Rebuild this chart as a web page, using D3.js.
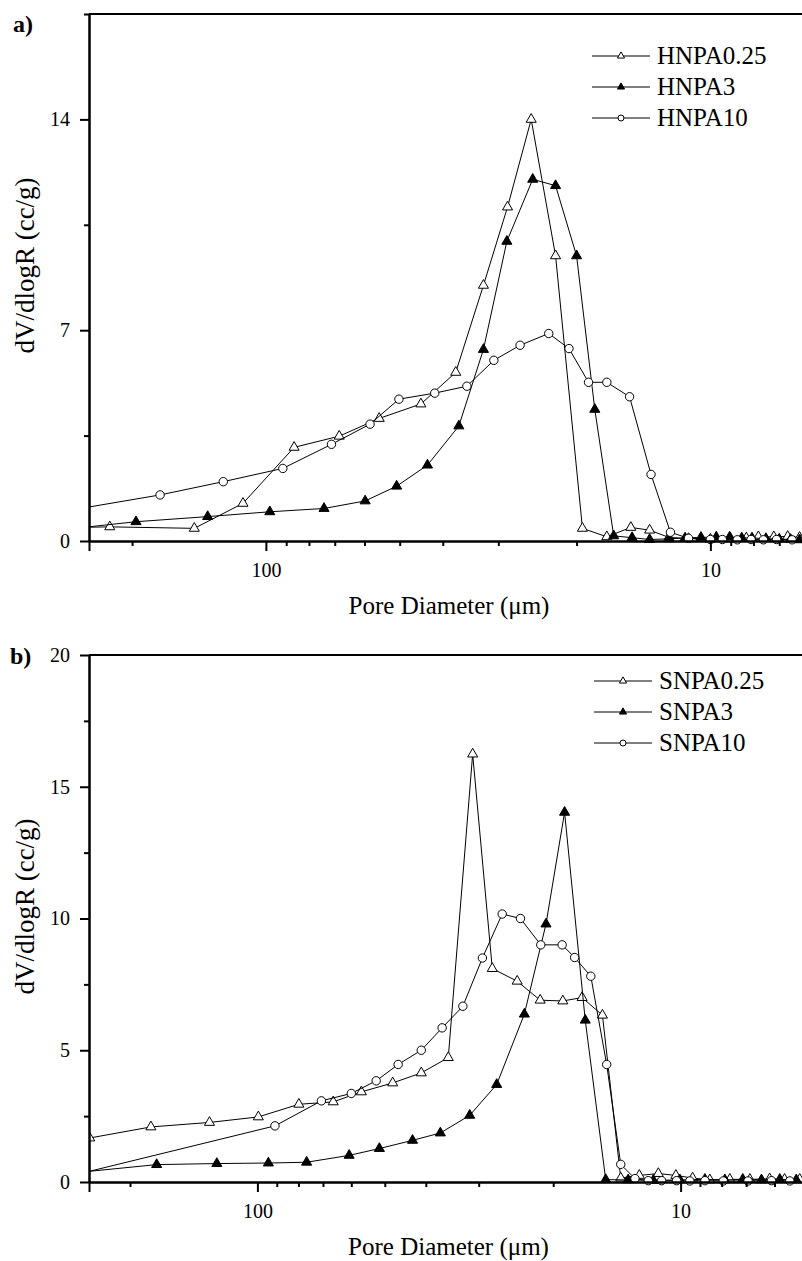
<!DOCTYPE html>
<html>
<head>
<meta charset="utf-8">
<script src="https://cdn.jsdelivr.net/npm/d3@7"></script>
<style>
body { margin: 0; background: #fff; }
</style>
</head>
<body>
<div id="chart"></div>
<script>
// panel a) - HNPA series, pore diameter (um) and dV/dlogR (cc/g)
var hnpa025D = [320, 224.5, 144.9, 112.6, 86.4, 68.4, 55.6, 44.8, 37.4, 32.4, 28.6, 25.3, 22.3, 19.4, 17.1, 15.1, 13.7, 12.4, 11.2, 10.0, 9.0, 8.3, 7.8, 7.2, 6.7, 6.3];
var hnpa025V = [0.43, 0.47, 0.42, 1.25, 3.11, 3.48, 4.07, 4.55, 5.60, 8.49, 11.09, 14.0, 9.47, 0.42, 0.14, 0.45, 0.36, 0.12, 0.08, 0.06, 0.07, 0.1, 0.14, 0.14, 0.15, 0.12];
var hnpa3D = [320, 196, 135.2, 98, 74, 59.8, 50.8, 43.3, 36.8, 32.4, 28.7, 25.1, 22.3, 20.0, 18.2, 16.5, 15.0, 13.7, 12.4, 11.4, 10.5, 9.7, 9.05, 8.5, 8.06, 7.5, 7.0, 6.6, 6.3];
var hnpa3V = [0.30, 0.64, 0.81, 0.97, 1.08, 1.33, 1.82, 2.52, 3.82, 6.36, 9.95, 12.01, 11.80, 9.47, 4.37, 0.17, 0.11, 0.05, 0.07, 0.1, 0.12, 0.13, 0.13, 0.1, 0.1, 0.08, 0.06, 0.05, 0.04];
var hnpa10D = [320, 173, 124.7, 91.6, 71.2, 58.3, 50.2, 41.7, 35.3, 30.7, 26.8, 23.1, 20.8, 18.8, 17.1, 15.2, 13.6, 12.3, 11.2, 10.0, 9.4, 8.7, 8.1, 7.6, 7.1, 6.55, 6.1];
var hnpa10V = [0.86, 1.53, 1.97, 2.41, 3.21, 3.88, 4.71, 4.91, 5.14, 6.0, 6.50, 6.89, 6.39, 5.27, 5.27, 4.79, 2.21, 0.29, 0.09, 0.05, 0.05, 0.04, 0.05, 0.04, 0.05, 0.04, 0.04];

// panel b) - SNPA series
var snpa025D = [249, 178.5, 129.8, 99.5, 79.8, 66.2, 56.8, 47.9, 41.0, 35.4, 31.0, 27.86, 24.33, 21.47, 18.98, 17.09, 15.30, 13.85, 12.52, 11.29, 10.26, 9.37, 8.53, 7.65, 6.86, 6.16, 5.68, 5.23];
var snpa025V = [1.67, 2.09, 2.26, 2.47, 2.95, 3.04, 3.42, 3.76, 4.14, 4.72, 16.24, 8.1, 7.62, 6.9, 6.87, 7.0, 6.33, 0.15, 0.25, 0.32, 0.25, 0.15, 0.08, 0.1, 0.1, 0.12, 0.1, 0.1];
var snpa3D = [270, 173, 124.7, 94.2, 76.5, 60.7, 51.5, 43.0, 36.96, 31.5, 27.2, 23.4, 20.8, 18.8, 16.8, 15.03, 13.3, 11.6, 10.04, 8.76, 7.86, 7.13, 6.44, 5.83, 5.33];
var snpa3V = [0.35, 0.66, 0.70, 0.72, 0.75, 1.01, 1.27, 1.58, 1.86, 2.53, 3.70, 6.37, 9.79, 14.03, 6.14, 0.09, 0.08, 0.06, 0.08, 0.1, 0.08, 0.1, 0.08, 0.1, 0.08];
var snpa10D = [270, 90.9, 70.6, 60.0, 52.4, 46.5, 41.0, 36.6, 32.7, 29.4, 26.4, 23.9, 21.4, 19.05, 17.8, 16.3, 14.95, 13.85, 12.82, 11.92, 11.09, 10.22, 9.51, 8.76, 7.93, 6.93, 6.10, 5.52];
var snpa10V = [0.27, 2.13, 3.08, 3.36, 3.84, 4.46, 5.0, 5.85, 6.67, 8.5, 10.17, 10.0, 9.0, 9.0, 8.52, 7.81, 4.46, 0.67, 0.13, 0.05, 0.05, 0.05, 0.04, 0.05, 0.04, 0.04, 0.05, 0.04];

// ticks
var xMajor = [100, 10];
var xMinorA = [200, 90, 80, 70, 60, 50, 40, 30, 20, 9, 8, 7];
var xMinorB = [200, 90, 80, 70, 60, 50, 40, 30, 20, 9, 8, 7, 6];
var yMajorA = [0, 7, 14];
var yMinorA = [3.5, 10.5, 17.5];
var yMajorB = [0, 5, 10, 15, 20];
var yMinorB = [2.5, 7.5, 12.5, 17.5];

var namesA = ["HNPA0.25", "HNPA3", "HNPA10"];
var namesB = ["SNPA0.25", "SNPA3", "SNPA10"];
var markers = ["openTri", "fillTri", "openCircle"];

var FONT = "'Liberation Serif', 'Times New Roman', serif";

var svg = d3.select("#chart").append("svg")
    .attr("width", 802)
    .attr("height", 1261)
    .style("font-family", FONT);

function zip(ds, vs) {
    return ds.map(function(d, i) { return {d: d, v: vs[i]}; });
}

function drawMarker(g, kind, cx, cy, small) {
    if (kind == "openCircle") {
        g.append("circle")
            .attr("cx", cx).attr("cy", cy)
            .attr("r", small ? 3 : 4.2)
            .attr("fill", "#fff").attr("stroke", "#000").attr("stroke-width", 1);
    } else {
        g.append("path")
            .attr("d", d3.symbol().type(d3.symbolTriangle).size(small ? 22 : 44)())
            .attr("transform", "translate(" + cx + "," + cy + ")")
            .attr("fill", kind == "fillTri" ? "#000" : "#fff")
            .attr("stroke", "#000").attr("stroke-width", 1);
    }
}

function addText(g, txt, size) {
    return g.append("text")
        .style("font-family", FONT)
        .style("font-size", size + "px")
        .attr("fill", "#000")
        .text(txt);
}

function drawPanel(p) {
    var x = d3.scaleLog().domain(p.xDomain).range([89, p.right]);
    var y = d3.scaleLinear().domain(p.yDomain).range([p.bottom, p.top]);

    var clipId = "clip" + p.id;
    svg.append("clipPath").attr("id", clipId)
        .append("rect")
        .attr("x", 89).attr("y", p.top - 20)
        .attr("width", p.right - 89).attr("height", p.bottom - p.top + 30);

    var plot = svg.append("g").attr("clip-path", "url(#" + clipId + ")");

    var line = d3.line()
        .x(function(d) { return x(d.d); })
        .y(function(d) { return y(d.v); });

    p.series.forEach(function(data, k) {
        plot.append("path")
            .datum(data)
            .attr("d", line)
            .attr("fill", "none")
            .attr("stroke", "#000")
            .attr("stroke-width", 1);
        data.forEach(function(d) {
            drawMarker(plot, markers[k], x(d.d), y(d.v), false);
        });
    });

    // axes
    var axes = svg.append("g").attr("class", "axes" + p.id);
    axes.append("g")
        .attr("transform", "translate(0," + p.bottom + ")")
        .call(d3.axisBottom(x).tickValues(xMajor).tickFormat(d3.format("d")).tickSize(10).tickPadding(12));
    axes.append("g")
        .attr("transform", "translate(0," + p.bottom + ")")
        .call(d3.axisBottom(x).tickValues(p.xMinor).tickFormat("").tickSize(5).tickSizeOuter(0));
    axes.append("g")
        .attr("transform", "translate(89,0)")
        .call(d3.axisLeft(y).tickValues(p.yMajor).tickSize(9).tickPadding(10).tickSizeOuter(0));
    axes.append("g")
        .attr("transform", "translate(89,0)")
        .call(d3.axisLeft(y).tickValues(p.yMinor).tickFormat("").tickSize(5).tickSizeOuter(0));

    axes.selectAll("g").attr("font-family", null).attr("font-size", null);
    axes.selectAll(".domain").attr("stroke-width", 2).attr("stroke", "#000");
    axes.selectAll(".tick line").attr("stroke-width", 2).attr("stroke", "#000");
    axes.selectAll(".tick text")
        .attr("fill", "#000")
        .style("font-size", "20px")
        .style("font-family", FONT);

    // top frame line
    svg.append("line")
        .attr("x1", 89).attr("x2", p.right)
        .attr("y1", p.top).attr("y2", p.top)
        .attr("stroke", "#000").attr("stroke-width", 2);

    // axis titles
    addText(svg, "Pore Diameter (\u03bcm)", 25)
        .attr("x", (89 + p.right) / 2)
        .attr("y", p.bottom + 73)
        .attr("text-anchor", "middle");

    addText(svg, "dV/dlogR (cc/g)", 27)
        .attr("transform", "translate(34," + ((p.top + p.bottom) / 2 - 12) + ") rotate(-90)")
        .attr("text-anchor", "middle");

    addText(svg, p.label, 24)
        .attr("x", p.labelX).attr("y", p.labelY)
        .style("font-weight", "bold");

    // legend
    var leg = svg.append("g");
    p.names.forEach(function(n, k) {
        var ly = p.legY + k * 31;
        leg.append("line")
            .attr("x1", p.legX).attr("x2", p.legX + 58)
            .attr("y1", ly).attr("y2", ly)
            .attr("stroke", "#000").attr("stroke-width", 1);
        drawMarker(leg, markers[k], p.legX + 29, ly, true);
        addText(leg, n, 25)
            .attr("x", p.legX + 65).attr("y", ly + 8);
    });
}

drawPanel({
    id: "a", label: "a)", labelX: 13, labelY: 32,
    xDomain: [250, 6], right: 809,
    yDomain: [0, 17.5], top: 14, bottom: 541,
    xMinor: xMinorA, yMajor: yMajorA, yMinor: yMinorA,
    names: namesA, legX: 592, legY: 56,
    series: [zip(hnpa025D, hnpa025V), zip(hnpa3D, hnpa3V), zip(hnpa10D, hnpa10V)]
});

drawPanel({
    id: "b", label: "b)", labelX: 10, labelY: 664,
    xDomain: [250, 5], right: 808,
    yDomain: [0, 20], top: 655, bottom: 1182,
    xMinor: xMinorB, yMajor: yMajorB, yMinor: yMinorB,
    names: namesB, legX: 594, legY: 681,
    series: [zip(snpa025D, snpa025V), zip(snpa3D, snpa3V), zip(snpa10D, snpa10V)]
});
</script>
</body>
</html>
